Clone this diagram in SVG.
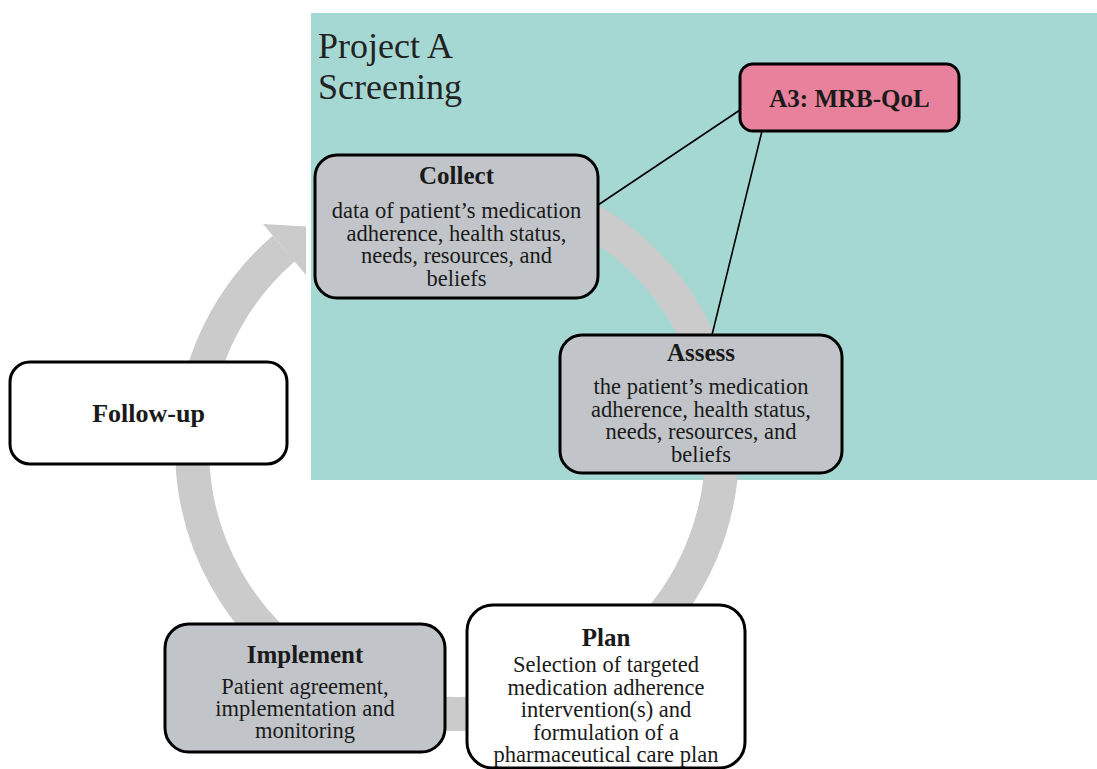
<svg xmlns="http://www.w3.org/2000/svg" width="1097" height="769" viewBox="0 0 1097 769">
  <style>
    .box{stroke:#000;stroke-width:3}
    .grey{fill:#c1c5c9}
    .white{fill:#fff}
    .pink{fill:#e8819b}
    .title{font-family:"Liberation Serif","Times New Roman",serif;font-weight:bold;font-size:25px;text-anchor:middle;fill:#1a1a1a}
    .body{font-family:"Liberation Serif","Times New Roman",serif;font-size:22.5px;text-anchor:middle;fill:#1a1a1a}
    .label{font-family:"Liberation Serif","Times New Roman",serif;font-size:36px;fill:#222}
    .link{stroke:#000;stroke-width:1.6;fill:none}
    .cycle{stroke:#cbcbcb;stroke-width:34;fill:none}
  </style>

  <rect width="1097" height="769" fill="#fff"/>

  <!-- Project A screening area -->
  <g id="project-a">
    <rect x="311" y="13" width="786" height="467" fill="#a6d8d3"/>
    <text class="label" x="318" y="58">Project A</text>
    <text class="label" x="318" y="99">Screening</text>
  </g>

  <!-- care cycle arrow, running clockwise and ending at Collect -->
  <g id="cycle">
    <path class="cycle" d="M 503 188 A 265 265 0 1 1 283.8 248.5"/>
    <polygon points="263,224 306,226.5 306,275" fill="#cbcbcb"/>
  </g>

  <g id="connectors">
    <line class="link" x1="740" y1="110" x2="598" y2="205"/>
    <line class="link" x1="762" y1="131" x2="712" y2="335"/>
  </g>

  <g id="a3">
    <rect class="box pink" x="740" y="64" width="219" height="67" rx="13"/>
    <text class="title" x="849.5" y="107">A3: MRB-QoL</text>
  </g>

  <g id="collect">
    <rect class="box grey" x="315" y="155" width="283" height="143" rx="22"/>
    <text class="title" x="456.5" y="184">Collect</text>
    <text class="body" x="456.5" y="218">data of patient’s medication</text>
    <text class="body" x="456.5" y="240.5">adherence, health status,</text>
    <text class="body" x="456.5" y="263">needs, resources, and</text>
    <text class="body" x="456.5" y="285.5">beliefs</text>
  </g>

  <g id="assess">
    <rect class="box grey" x="560" y="335" width="282" height="138" rx="22"/>
    <text class="title" x="701" y="361">Assess</text>
    <text class="body" x="701" y="394">the patient’s medication</text>
    <text class="body" x="701" y="416.5">adherence, health status,</text>
    <text class="body" x="701" y="439">needs, resources, and</text>
    <text class="body" x="701" y="461.5">beliefs</text>
  </g>

  <g id="follow-up">
    <rect class="box white" x="10" y="362" width="277" height="102" rx="20"/>
    <text class="title" x="148.5" y="422" style="font-size:26px">Follow-up</text>
  </g>

  <g id="implement">
    <rect class="box grey" x="165" y="624" width="280" height="128" rx="24"/>
    <text class="title" x="305" y="663">Implement</text>
    <text class="body" x="305" y="694">Patient agreement,</text>
    <text class="body" x="305" y="716">implementation and</text>
    <text class="body" x="305" y="738">monitoring</text>
  </g>

  <g id="plan">
    <rect class="box white" x="467" y="605" width="278" height="163" rx="26"/>
    <text class="title" x="606" y="646">Plan</text>
    <text class="body" x="606" y="672">Selection of targeted</text>
    <text class="body" x="606" y="694.5">medication adherence</text>
    <text class="body" x="606" y="717">intervention(s) and</text>
    <text class="body" x="606" y="739.5">formulation of a</text>
    <text class="body" x="606" y="762">pharmaceutical care plan</text>
  </g>
</svg>
